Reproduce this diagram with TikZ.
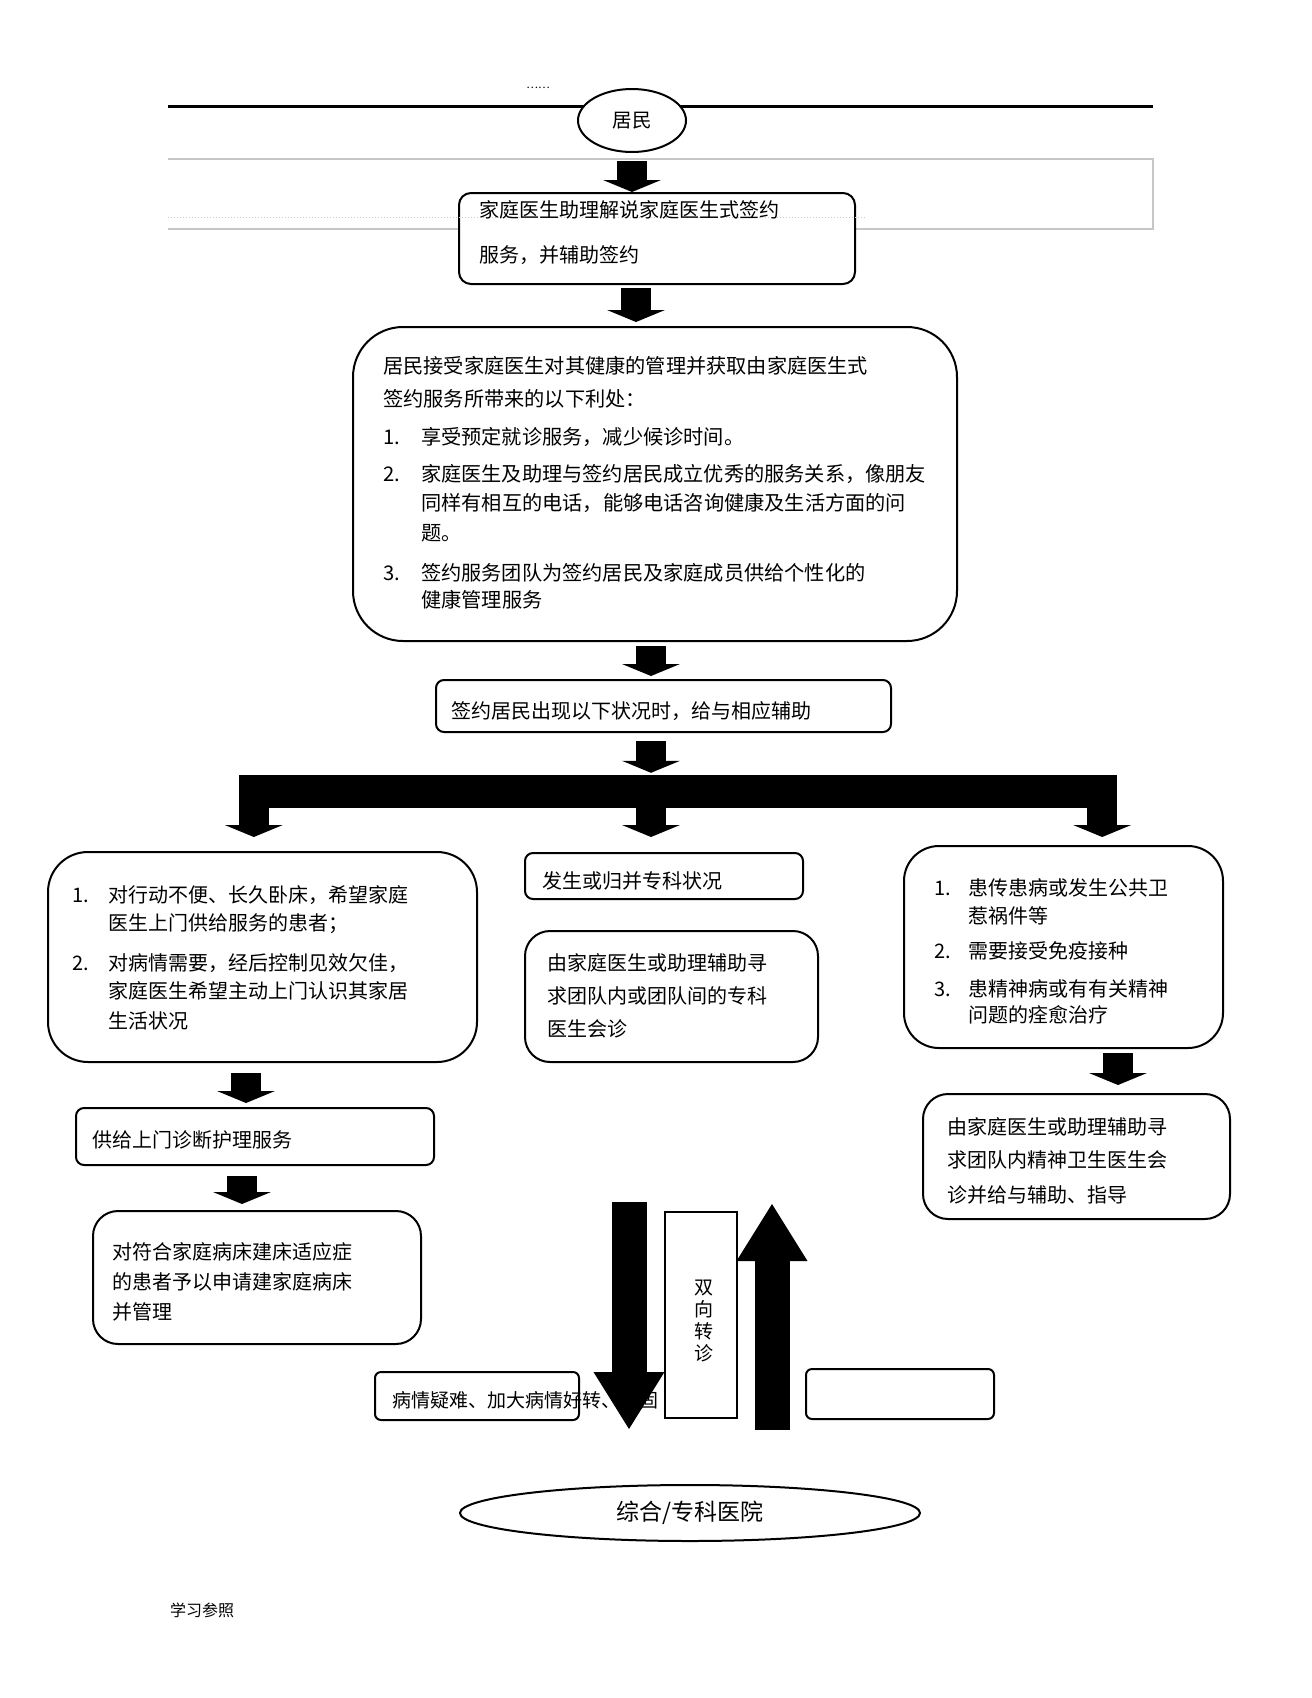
\documentclass[tikz,border=0pt]{standalone}
\usepackage{fontspec}
\setmainfont{Noto Sans CJK SC}
\usetikzlibrary{arrows.meta,positioning,shapes.geometric}
\tikzset{box/.style={draw,line width=2pt,fill=white,rounded corners=#1,inner sep=0pt},box/.default=8pt}
\tikzset{txt/.style={inner sep=0pt,align=left,font=\fontsize{20}{28}\selectfont}}
\tikzset{blk/.style={line width=30pt,-{Triangle[width=58pt,length=12pt,line width=0pt]}}}
\tikzset{bigblk/.style={line width=35pt,-{Triangle[width=71pt,length=57pt,line width=0pt]}}}
\tikzset{hdr/.style={gray!45,line width=1.2pt}}
\newcommand{\inum}[2][36pt]{\makebox[#1][l]{#2}}
\newcommand{\ind}[1][36pt]{\hspace*{#1}}

\begin{document}
\begin{tikzpicture}[x=1pt,y=-1pt]
\fill[white] (0,0) rectangle (1312,1698);
\useasboundingbox (0,0) rectangle (1312,1698);

% page header
\draw[hdr] (168,159) -- (1153,159) -- (1153,229) -- (168,229);
\draw[line width=3pt] (168,106) -- (1153,106);
\node[font=\fontsize{11}{13}\selectfont] (dt) at (538,88) {……};
\node[draw,ellipse,fill=white,line width=2pt,minimum width=108pt,minimum height=63pt,inner sep=0pt,font=\fontsize{19.5}{22}\selectfont] (res) at (632,120.5) {居民};

% boxes
\node[box=12pt,minimum width=396pt,minimum height=91pt] (b1) at (657,238.5) {};
\draw[gray!40,dotted,line width=1pt] (168,217) -- (866,217);
\node[box=50pt,minimum width=604pt,minimum height=314pt] (b2) at (655,484) {};
\node[box,minimum width=455pt,minimum height=52pt] (b3) at (663.5,706) {};
\node[fill=black,minimum width=878pt,minimum height=33pt,inner sep=0pt] (bar) at (678,791.5) {};
\node[box=40pt,minimum width=429pt,minimum height=210pt] (l1) at (262.5,957) {};
\node[box,minimum width=278pt,minimum height=46pt] (m1) at (664,876) {};
\node[box=25pt,minimum width=293pt,minimum height=131pt] (m2) at (671.5,996.5) {};
\node[box=35pt,minimum width=319pt,minimum height=202pt] (r1) at (1063.5,947) {};
\node[box=25pt,minimum width=307pt,minimum height=125pt] (r2) at (1076.5,1156.5) {};
\node[box,minimum width=358pt,minimum height=57pt] (l2) at (255,1136.5) {};
\node[box=25pt,minimum width=328pt,minimum height=133pt] (l3) at (257,1277.5) {};

% texts
\node[txt,below right=8pt and 21pt of b1.north west] (t1) {家庭医生助理解说家庭医生式签约\\[17pt]服务，并辅助签约};
\node[txt,font=\fontsize{20.2}{29}\selectfont,below right=30pt and 31pt of b2.north west] (t2) {居民接受家庭医生对其健康的管理并获取由家庭医生式\\[4pt]
签约服务所带来的以下利处：\\[9pt]
\inum[38pt]{1.}享受预定就诊服务，减少候诊时间。\\[8pt]
\inum[38pt]{2.}家庭医生及助理与签约居民成立优秀的服务关系，像朋友\\
\ind[38pt]同样有相互的电话，能够电话咨询健康及生活方面的问\\[1pt]
\ind[38pt]题。\\[11pt]
\inum[38pt]{3.}签约服务团队为签约居民及家庭成员供给个性化的\\[-2pt]
\ind[38pt]健康管理服务};
\node[txt,right=16pt of b3.west,yshift=-5pt] (t3) {签约居民出现以下状况时，给与相应辅助};
\node[txt,below right=34pt and 25pt of l1.north west] (tl1) {\inum{1.}对行动不便、长久卧床，希望家庭\\
\ind 医生上门供给服务的患者；\\[12pt]
\inum{2.}对病情需要，经后控制见效欠佳，\\
\ind 家庭医生希望主动上门认识其家居\\[2pt]
\ind 生活状况};
\node[txt,right=18pt of m1.west,yshift=-5pt] (tm1) {发生或归并专科状况};
\node[txt,font=\fontsize{20}{33}\selectfont,below right=23pt and 23pt of m2.north west] (tm2) {由家庭医生或助理辅助寻\\求团队内或团队间的专科\\医生会诊};
\node[txt,below right=33pt and 31pt of r1.north west] (tr1) {\inum[34pt]{1.}患传患病或发生公共卫\\
\ind[34pt]惹祸件等\\[7pt]
\inum[34pt]{2.}需要接受免疫接种\\[10pt]
\inum[34pt]{3.}患精神病或有有关精神\\[-2pt]
\ind[34pt]问题的痊愈治疗};
\node[txt,font=\fontsize{20}{33}\selectfont,below right=24pt and 25pt of r2.north west] (tr2) {由家庭医生或助理辅助寻\\求团队内精神卫生医生会\\[2pt]诊并给与辅助、指导};
\node[txt,right=17pt of l2.west,yshift=-3pt] (tl2) {供给上门诊断护理服务};
\node[txt,font=\fontsize{20}{30}\selectfont,below right=32pt and 20pt of l3.north west] (tl3) {对符合家庭病床建床适应症\\的患者予以申请建家庭病床\\并管理};

% arrows
\draw[blk,shorten <=8pt] (res.south) -- (res.south |- b1.north);
\coordinate (a2) at ([xshift=-21pt]b1.south);
\draw[blk,shorten <=3pt,shorten >=4pt] (a2) -- (a2 |- b2.north);
\coordinate (a3) at ([xshift=-4pt]b2.south);
\draw[blk,shorten <=4pt,shorten >=3pt] (a3) -- (a3 |- b3.north);
\coordinate (a4) at ([xshift=-12.5pt]b3.south);
\draw[blk,shorten <=8pt,shorten >=2pt] (a4) -- (a4 |- bar.north);
\coordinate (a5) at ([xshift=15pt]bar.south west);
\draw[blk,shorten >=14pt] (a5) -- (a5 |- l1.north);
\coordinate (a6) at ([xshift=-27pt]bar.south);
\draw[blk,shorten >=15pt] (a6) -- (a6 |- m1.north);
\coordinate (a7) at ([xshift=-15pt]bar.south east);
\draw[blk,shorten >=8pt] (a7) -- (a7 |- r1.north);
\coordinate (a8) at ([xshift=54.5pt]r1.south);
\draw[blk,shorten <=4pt,shorten >=8pt] (a8) -- (a8 |- r2.north);
\coordinate (a9) at ([xshift=-16.5pt]l1.south);
\draw[blk,shorten <=10pt,shorten >=4pt] (a9) -- (a9 |- l2.north);
\coordinate (a10) at ([xshift=-13pt]l2.south);
\draw[blk,shorten <=10pt,shorten >=6pt] (a10) -- (a10 |- l3.north);

% two-way referral
\node[box=6pt,minimum width=204pt,minimum height=48pt] (bl) at (477,1396) {};
\node[txt,font=\fontsize{19}{22}\selectfont,right=18pt of bl.west,yshift=-4pt] (tbl) {病情疑难、加大病情好转、稳固};
\node[box=6pt,minimum width=188pt,minimum height=50pt] (br) at (900,1394) {};
\coordinate (dtop) at (629,1202);
\coordinate (dbot) at (629,1429);
\draw[bigblk] (dtop) -- (dbot);
\node[draw,fill=white,line width=1.2pt,minimum width=72pt,minimum height=206pt,inner sep=0pt] (sx) at (701,1315) {};
\node[align=center,inner sep=0pt,font=\fontsize{19}{22}\selectfont] (tsx) at ([xshift=3pt,yshift=-6pt]sx.center) {双\\向\\转\\诊};
\coordinate (ubot) at (772,1430);
\coordinate (utop) at (772,1204);
\draw[bigblk] (ubot) -- (utop);
\node[draw,ellipse,line width=2pt,minimum width=460pt,minimum height=56pt,inner sep=0pt,font=\fontsize{23}{26}\selectfont] (hosp) at (690,1513) {综合/专科医院};

\node[font=\fontsize{16}{19}\selectfont] (foot) at (202,1610) {学习参照};
\end{tikzpicture}
\end{document}
